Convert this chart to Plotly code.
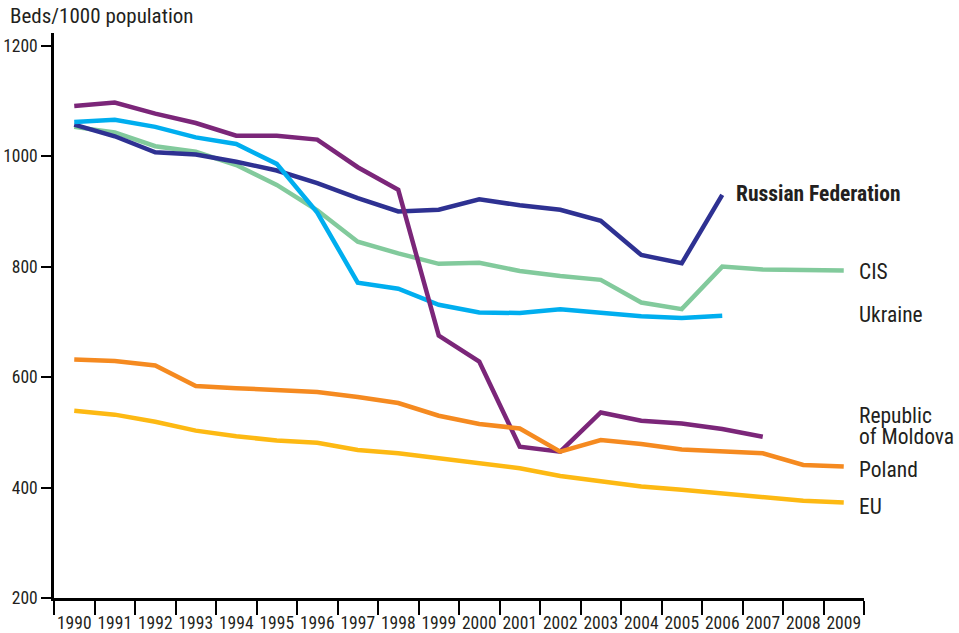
import plotly.graph_objects as go

years = [str(y) for y in range(1990, 2010)]

cis = [1053, 1043, 1018, 1008, 984, 948, 902, 845, 824, 805, 807, 792, 783, 776, 735, 723, 800, 795, 794, 793]
russia = [1057, 1036, 1007, 1003, 990, 974, 951, 924, 900, 903, 922, 911, 903, 883, 821, 806, 930]
ukraine = [1062, 1066, 1053, 1034, 1022, 986, 898, 771, 760, 731, 717, 716, 723, 716, 710, 707, 711]
moldova = [1091, 1097, 1077, 1060, 1037, 1037, 1030, 980, 939, 675, 628, 474, 465, 536, 521, 516, 506, 492]
poland = [632, 629, 621, 584, 580, 576, 573, 564, 553, 530, 515, 507, 465, 486, 479, 469, 465, 462, 441, 438]
eu = [539, 532, 519, 503, 493, 485, 481, 468, 462, 453, 443, 435, 421, 411, 402, 396, 390, 382, 376, 373]

y_ticks = [200, 400, 600, 800, 1000, 1200]

series = [
    ("CIS", cis, "#82CA9C"),
    ("Russian Federation", russia, "#2E3192"),
    ("Ukraine", ukraine, "#00AEEF"),
    ("Republic of Moldova", moldova, "#7B2679"),
    ("Poland", poland, "#F58A20"),
    ("EU", eu, "#FDB913"),
]

FONT = "Roboto Condensed, Roboto, sans-serif"
TXT = "#231F20"

fig = go.Figure()
for name, vals, color in series:
    fig.add_trace(go.Scatter(
        x=years[:len(vals)], y=vals, mode="lines", name=name,
        line=dict(color=color, width=4.5),
        hoverinfo="skip",
    ))

labels = [
    ("<b>Russian Federation</b>", 0.8395, 932),
    ("CIS", 0.9914, 792),
    ("Ukraine", 0.9914, 713),
    ("Republic", 0.9914, 531),
    ("of Moldova", 0.9914, 492),
    ("Poland", 0.9914, 432),
    ("EU", 0.9914, 366),
]
for text, xp, yv in labels:
    fig.add_annotation(
        x=xp, xref="paper", y=yv, yref="y", text=text, showarrow=False,
        xanchor="left", yanchor="middle", align="left",
        font=dict(family=FONT, size=21.5, color=TXT),
    )

fig.add_annotation(
    x=-0.0568, xref="paper", y=1.030, yref="paper", text="Beds/1000 population",
    showarrow=False, xanchor="left", yanchor="middle",
    font=dict(family=FONT, size=21, color=TXT),
)

fig.update_layout(
    width=959, height=633,
    margin=dict(l=54, r=95, t=33, b=35),
    paper_bgcolor="white", plot_bgcolor="white",
    showlegend=False,
    font=dict(family=FONT, size=17.5, color=TXT),
    xaxis=dict(
        type="category", tickson="boundaries", ticks="outside", ticklen=14,
        tickwidth=1.5, tickcolor="black", showline=True, linecolor="black",
        linewidth=2.5, showgrid=False, zeroline=False, tickangle=0,
        automargin=False, range=[-0.5, 19.5], tickfont=dict(size=17.5),
        ticklabelstandoff=7,
    ),
    yaxis=dict(
        range=[200, 1223], tickvals=y_ticks, ticks="outside", ticklen=10,
        tickwidth=1.5, tickcolor="black", showline=True, linecolor="black",
        linewidth=2.5, showgrid=False, zeroline=False, automargin=False,
        tickfont=dict(size=17.5),
    ),
)

fig.write_html("out.html", config={"displayModeBar": False},
               post_script="document.body.style.margin='0';")
